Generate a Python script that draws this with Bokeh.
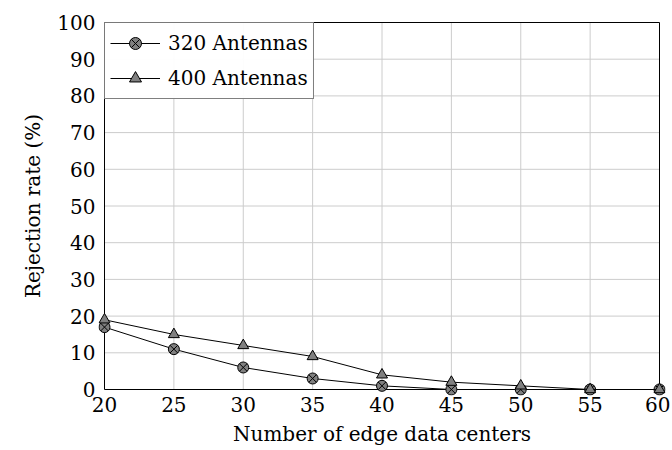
from bokeh.plotting import figure
from bokeh.models import Legend, LegendItem, FixedTicker, Range1d
from bokeh.embed import file_html
from bokeh.resources import INLINE

x_vals = [20, 25, 30, 35, 40, 45, 50, 55, 60]
rate_320 = [17, 11, 6, 3, 1, 0, 0, 0, 0]
rate_400 = [19, 15, 12, 9, 4, 2, 1, 0, 0]
x_ticks = [20, 25, 30, 35, 40, 45, 50, 55, 60]
y_ticks = [0, 10, 20, 30, 40, 50, 60, 70, 80, 90, 100]

FONT = "DejaVu Serif"
FS = "20px"

# axis box (data limits) and a small pixel pad so edge markers are not clipped
X0, X1 = x_ticks[0], x_ticks[-1]
Y0, Y1 = y_ticks[0], y_ticks[-1]
BOX_W, BOX_H = 555, 367
PAD = 6
xpad = PAD * (X1 - X0) / BOX_W
ypad = PAD * (Y1 - Y0) / BOX_H
H = 450
TOP = 22 - PAD

p = figure(width=670, height=H, output_backend="svg", toolbar_location=None,
           x_range=Range1d(X0 - xpad, X1 + xpad), y_range=Range1d(Y0 - ypad, Y1 + ypad),
           min_border_left=104 - PAD, min_border_right=5, min_border_top=TOP,
           min_border_bottom=H - TOP - BOX_H - 2 * PAD)

p.outline_line_color = None
p.grid.visible = False

p.xaxis.ticker = FixedTicker(ticks=x_ticks)
p.yaxis.ticker = FixedTicker(ticks=y_ticks)
for ax in (p.xaxis[0], p.yaxis[0]):
    ax.axis_line_color = None
    ax.major_tick_line_color = None
    ax.major_tick_out = 0
    ax.major_tick_in = 0
    ax.minor_tick_line_color = None
    ax.major_label_text_font = FONT
    ax.major_label_text_font_size = FS
    ax.major_label_text_color = "black"
    ax.axis_label_text_font = FONT
    ax.axis_label_text_font_size = FS
    ax.axis_label_text_font_style = "normal"
    ax.axis_label_text_color = "black"
p.xaxis.axis_label = "Number of edge data centers"
p.yaxis.axis_label = "Rejection rate (%)"
p.xaxis.major_label_standoff = 1
p.xaxis.axis_label_standoff = 7
p.yaxis.major_label_standoff = 3
p.yaxis.axis_label_standoff = 9

# grid lines inside the box (interior ticks only; the box draws the edges)
gx = x_ticks[1:-1]
gy = y_ticks[1:-1]
p.segment(x0=gx, y0=[Y0] * len(gx), x1=gx, y1=[Y1] * len(gx),
          line_color="#cccccc", line_width=1)
p.segment(x0=[X0] * len(gy), y0=gy, x1=[X1] * len(gy), y1=gy,
          line_color="#cccccc", line_width=1)

# axis box
p.quad(left=[X0], right=[X1], bottom=[Y0], top=[Y1], fill_color=None,
       line_color="black", line_width=1)

r1 = p.line(x_vals, rate_320, line_color="black", line_width=1)
s1 = p.scatter(x_vals, rate_320, marker="circle_x", size=11, fill_color="#808080",
               line_color="black", line_width=1)
r2 = p.line(x_vals, rate_400, line_color="black", line_width=1)
s2 = p.scatter(x_vals, rate_400, marker="triangle", size=11, fill_color="#808080",
               line_color="black", line_width=1)

legend = Legend(items=[LegendItem(label="320 Antennas", renderers=[r1, s1]),
                       LegendItem(label="400 Antennas", renderers=[r2, s2])],
                location="top_left", margin=PAD, padding=5, spacing=5,
                border_line_color="black", border_line_width=1,
                label_text_font=FONT, label_text_font_size=FS, label_text_color="black",
                glyph_width=50, glyph_height=30, label_height=30, label_standoff=8)
p.add_layout(legend)

open("out.html", "w").write(file_html(p, INLINE))
